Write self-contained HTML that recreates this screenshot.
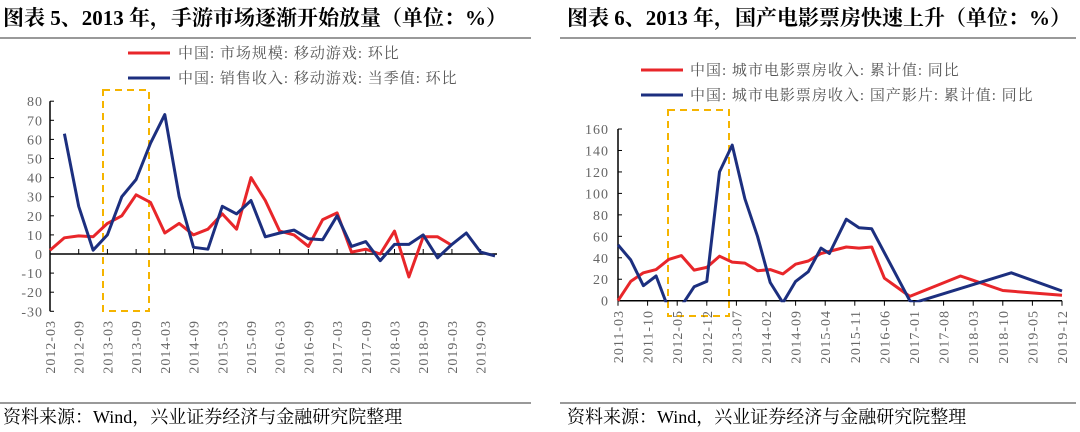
<!DOCTYPE html>
<html><head><meta charset="utf-8"><style>
html,body{margin:0;padding:0;background:#fff;width:1080px;height:432px;overflow:hidden}
svg{display:block}
.t{font-family:"Liberation Serif","Noto Serif CJK SC",serif;font-weight:bold;font-size:21px;fill:#000}
.lg{font-family:"Liberation Serif","Noto Serif CJK SC",serif;font-size:15px;fill:#555;letter-spacing:1px}
.tk{font-family:"Liberation Serif",serif;font-size:14px;fill:#666;letter-spacing:1px}
.src{font-family:"Liberation Serif","Noto Serif CJK SC",serif;font-size:18px;fill:#000}
</style></head><body>
<svg id="s" width="1080" height="432" xmlns="http://www.w3.org/2000/svg">
<text class="t" x="3" y="25">图表 5、2013 年，手游市场逐渐开始放量（单位：%）</text>
<text class="t" x="567" y="25">图表 6、2013 年，国产电影票房快速上升（单位：%）</text>
<line x1="0" y1="38" x2="531" y2="38" stroke="#333" stroke-width="1"/>
<line x1="560" y1="38" x2="1076" y2="38" stroke="#333" stroke-width="1"/>
<line x1="0" y1="403" x2="531" y2="403" stroke="#333" stroke-width="1"/>
<line x1="560" y1="403" x2="1076" y2="403" stroke="#333" stroke-width="1"/>
<text class="src" x="3" y="423">资料来源：Wind，兴业证券经济与金融研究院整理</text>
<text class="src" x="567" y="423">资料来源：Wind，兴业证券经济与金融研究院整理</text>
<line x1="128" y1="53" x2="170" y2="53" stroke="#e8262a" stroke-width="3"/>
<text class="lg" x="178" y="58">中国: 市场规模: 移动游戏: 环比</text>
<line x1="128" y1="78" x2="170" y2="78" stroke="#1c2f7f" stroke-width="3"/>
<text class="lg" x="178" y="83">中国: 销售收入: 移动游戏: 当季值: 环比</text>
<line x1="641" y1="70" x2="683" y2="70" stroke="#e8262a" stroke-width="3"/>
<text class="lg" x="690" y="75">中国: 城市电影票房收入: 累计值: 同比</text>
<line x1="641" y1="95" x2="683" y2="95" stroke="#1c2f7f" stroke-width="3"/>
<text class="lg" x="690" y="100">中国: 城市电影票房收入: 国产影片: 累计值: 同比</text>
<rect x="103" y="90" width="46" height="221" fill="none" stroke="#f5b400" stroke-width="2" stroke-dasharray="7,5"/>
<rect x="668" y="110" width="61" height="206" fill="none" stroke="#f5b400" stroke-width="2" stroke-dasharray="7,5"/>
</svg>
<script>
// Left chart data (quarterly, index 0 = 2012-03)
const leftLabels=["2012-03","2012-09","2013-03","2013-09","2014-03","2014-09","2015-03","2015-09","2016-03","2016-09","2017-03","2017-09","2018-03","2018-09","2019-03","2019-09"];
const leftRed=[2,8.5,9.5,9,16,20,31,27,11,16,10,13,21,13,40,28,12,10,4,18,21.5,1,2.5,0,12,-12,9,9,4.5];
const leftBlue=[null,63,25,2,10,30,39,58,73,30,3.5,2.5,25,21,28,9,11,12.5,8,7.5,20,4,6.5,-3.5,5,5,10,-2,5,11,1,-1];
const leftTicks=[-30,-20,-10,0,10,20,30,40,50,60,70,80];
// Right chart data (month offsets from 2011-03)
const rightLabels=["2011-03","2011-10","2012-05","2012-12","2013-07","2014-02","2014-09","2015-04","2015-11","2016-06","2017-01","2017-08","2018-03","2018-10","2019-05","2019-12"];
const redMonths=[0,3,6,9,12,15,18,21,24,27,30,33,36,39,42,45,48,54,57,60,63,69,81,84,91,105];
const redVals=[0,18,26,29,38.5,42,28.5,31,41.5,36,35,28,29,25,34,37,44,50,49,50,21,4,23,19,9.5,5];
const blueMonths=[0,3,6,9,12,15,18,21,24,27,30,33,36,39,42,45,48,50,54,57,60,69,70,93,105];
const blueVals=[52,38,14,23,-8,-5,13,18,120,145,95,60,17,-2,18,27,49,44,76,68,67,0,-2,26,9];
const rightTicks=[0,20,40,60,80,100,120,140,160];

const NS="http://www.w3.org/2000/svg";const s=document.getElementById('s');
function el(t,a,p){const e=document.createElementNS(NS,t);for(const k in a)e.setAttribute(k,a[k]);(p||s).appendChild(e);return e;}

// left axes
const lx=i=>50+i*(445/31), ly=v=>254-v*1.91;
el('line',{x1:50,y1:ly(80),x2:50,y2:ly(-30),stroke:'#000','stroke-width':1.5});
el('line',{x1:50,y1:ly(0),x2:497,y2:ly(0),stroke:'#000','stroke-width':1.5});
leftTicks.forEach(v=>{el('line',{x1:50,y1:ly(v),x2:54,y2:ly(v),stroke:'#000'});
 const t=el('text',{x:43,y:ly(v)+5,'text-anchor':'end',class:'tk'});t.textContent=v;
 
 });
leftLabels.forEach((l,k)=>{const x=lx(k*2);
 if(k>0){el('line',{x1:x,y1:ly(0),x2:x,y2:ly(0)-5,stroke:'#000'});}
 const t=el('text',{x:0,y:0,class:'tk','text-anchor':'end',transform:`translate(${x+5},320) rotate(-90)`});t.textContent=l;
 
 });
function poly(xs,ys,color,name,clip){let d='';let started=false;
 xs.forEach((x,i)=>{const y=ys[i];if(y===null||y===undefined){started=false;return;}d+=(started?'L':'M')+x.toFixed(1)+','+y.toFixed(1);started=true;});
 const p=el('path',{d:d,fill:'none',stroke:color,'stroke-width':3,'stroke-linejoin':'round'});
 if(clip)p.setAttribute('clip-path',clip);
 
 }
poly(leftRed.map((v,i)=>lx(i)),leftRed.map(v=>ly(v)),'#e8262a','left-red-series');
poly(leftBlue.map((v,i)=>lx(i)),leftBlue.map(v=>v===null?null:ly(v)),'#1c2f7f','left-blue-series');

// right axes
const rx=m=>618+m*(444/105), ry=v=>300.7-v*1.073;
const cp=el('clipPath',{id:'rc'});el('rect',{x:600,y:100,width:480,height:ry(0)-100+1.5},cp);
el('line',{x1:618,y1:ry(160),x2:618,y2:ry(0),stroke:'#000','stroke-width':1.5});
el('line',{x1:618,y1:ry(0),x2:1062,y2:ry(0),stroke:'#000','stroke-width':1.5});
rightTicks.forEach(v=>{el('line',{x1:618,y1:ry(v),x2:622,y2:ry(v),stroke:'#000'});
 const t=el('text',{x:609,y:ry(v)+5,'text-anchor':'end',class:'tk'});t.textContent=v;
 
 });
rightLabels.forEach((l,k)=>{const x=rx(k*7);
 el('line',{x1:x,y1:ry(0),x2:x,y2:ry(0)+5,stroke:'#000'});
 const t=el('text',{x:0,y:0,class:'tk','text-anchor':'end',transform:`translate(${x+5},310) rotate(-90)`});t.textContent=l;
 
 });
poly(redMonths.map(rx),redVals.map(ry),'#e8262a','right-red-series','url(#rc)');
poly(blueMonths.map(rx),blueVals.map(ry),'#1c2f7f','right-blue-series','url(#rc)');
</script>
</body></html>
